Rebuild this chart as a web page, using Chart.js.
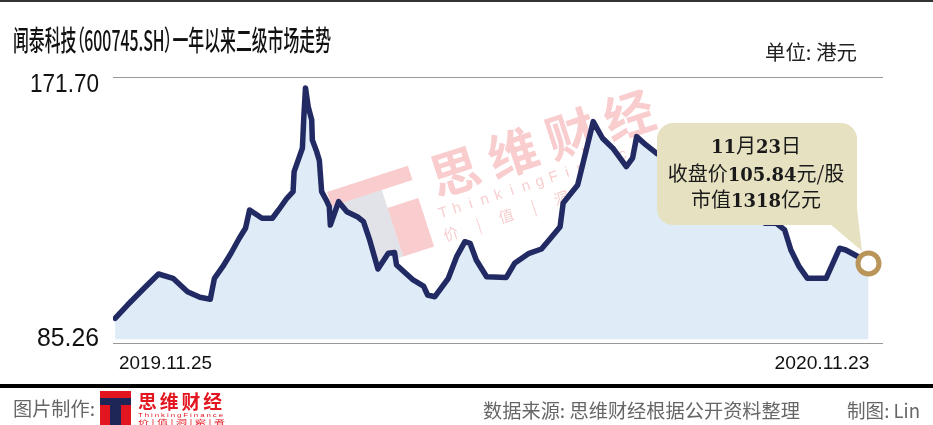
<!DOCTYPE html>
<html>
<head>
<meta charset="utf-8">
<script src="https://cdn.jsdelivr.net/npm/chart.js@4.4.0/dist/chart.umd.min.js"></script>
<style>
  html, body { margin: 0; padding: 0; background: #fff; }
  #wrap { position: relative; width: 933px; height: 425px; overflow: hidden; background: #fff; }
  #chart { position: absolute; left: 0; top: 0; }
  .txt { position: absolute; white-space: nowrap; display: inline-block; line-height: 1;
         font-family: "Noto Sans CJK SC", "Noto Sans", sans-serif; font-feature-settings: "palt"; }
  .rule { position: absolute; left: 0; width: 933px; }
  #logo { position: absolute; left: 100px; top: 391px; width: 31px; height: 34px; background: #e3151e; overflow: hidden; }
  #logo .bar { position: absolute; left: 0; top: 7px; width: 31px; height: 7px; background: #1d2657; }
  #logo .stem { position: absolute; left: 10px; top: 14px; width: 11px; height: 20px; background: #1d2657; }
</style>
</head>
<body>
<div id="wrap">
  <canvas id="chart" width="933" height="425"></canvas>
  <div class="rule" style="top:0;height:2px;background:#333;"></div>
  <div class="txt" id="title" data-w="318" style="left:13px;top:25px;font-size:28px;font-weight:500;color:#111;">闻泰科技（600745.SH）一年以来二级市场走势</div>
  <div class="txt" data-w="92" style="left:765px;top:42px;font-size:20px;color:#222;">单位: 港元</div>

  <div class="rule" style="top:384px;height:4px;background:#000;"></div>
  <div class="txt" data-w="82" style="left:13px;top:398px;font-size:19px;color:#666;">图片制作:</div>
  <div id="logo"><div class="bar"></div><div class="stem"></div></div>
  <div class="txt" data-w="87" style="left:138px;top:391px;font-size:19px;font-weight:bold;color:#e3151e;letter-spacing:3px;">思维财经</div>
  <div class="txt" data-w="87" style="left:138px;top:412px;font-size:6px;color:#e3151e;letter-spacing:1.5px;font-family:'Liberation Sans',sans-serif;">ThinkingFinance</div>
  <div class="txt" data-w="87" style="left:138px;top:418.5px;font-size:6px;color:#e3151e;">价 | 值 | 洞 | 察 | 者</div>
  <div class="txt" data-w="317" style="left:483px;top:400px;font-size:19px;color:#666;">数据来源: 思维财经根据公开资料整理</div>
  <div class="txt" data-w="73" style="left:847px;top:400px;font-size:19px;color:#666;">制图: Lin</div>
</div>

<script>
// ── Data (days counted from 2019.11.25) ──
const DAY_OFFSET = [0, 6, 14, 21, 28, 35, 41, 46, 48, 52, 56, 60, 63, 65, 71, 76, 79, 83, 86, 86.5,
  88.5, 90.5, 91.2, 92, 93.3, 95, 95.3, 97.4, 98.7, 99.8, 102, 103.5, 104, 108, 112, 117, 120, 123, 127, 132,
  135, 136, 144, 149, 151, 154.5, 161, 165, 169, 171.5, 174.5, 179.5, 189, 193, 200, 206, 211, 215, 216.5, 223.5,
  231, 235.5, 240.5, 247, 250, 252, 256.5, 261.5, 273, 287, 302, 314, 319.5, 323.5, 326.5, 330.5, 334.5, 343.5, 350, 353,
  359.5, 364];
const CLOSE_PRICE = [85.26, 90.25, 96.52, 101.89, 100.28, 95.24, 93.14, 92.39, 100.28, 104.63, 109.66, 115.29, 119.04, 125.91, 122.80, 122.80, 125.91, 130.30, 132.78, 140.29,
  144.68, 149.07, 160.94, 171.70, 164.69, 159.70, 152.19, 147.80, 144.42, 132.78, 129.67, 127.15, 120.28, 129.03, 125.28, 123.40, 121.52, 114.65, 103.77, 109.66,
  109.96, 105.27, 99.64, 97.38, 94.01, 93.37, 100.28, 108.38, 114.01, 113.41, 107.14, 100.88, 100.58, 105.90, 109.66, 111.27, 115.89, 119.64, 128.54, 135.30,
  159.06, 152.83, 149.07, 142.17, 145.32, 153.43, 150.31, 147.20, 142.81, 135.30, 127.79, 120.92, 120.92, 118.41, 110.90, 104.63, 100.28, 100.28, 111.54, 110.90,
  108.16, 105.84];
const Y_TICK_LABELS = ["85.26", "171.70"];
const X_TICK_LABELS = ["2019.11.25", "2020.11.23"];
const NOTE_LINES = [
  [["11", "b"], ["月", "r"], ["23", "b"], ["日", "r"]],
  [["收盘价", "r"], ["105.84", "b"], ["元/股", "r"]],
  [["市值", "r"], ["1318", "b"], ["亿元", "r"]],
];

// axis range (gridlines sit at these)
const Y_AXIS_MIN = 76.0, Y_AXIS_MAX = 175.8;
const X_AXIS_MIN = -1, X_AXIS_MAX = 371;

const NAVY = "#222a64";
const GOLD = "#b9955a";

// ── squeeze helpers (the original uses condensed faces) ──
document.querySelectorAll(".txt[data-w]").forEach(el => {
  const nat = el.getBoundingClientRect().width;
  el.style.transformOrigin = "left top";
  el.style.transform = `scaleX(${parseFloat(el.dataset.w) / nat})`;
});

function fitFill(ctx, text, x, y, w, align) {
  const nat = ctx.measureText(text).width;
  ctx.save();
  ctx.translate(x, y);
  ctx.scale(w / nat, 1);
  ctx.textAlign = align;
  ctx.fillText(text, 0, 0);
  ctx.restore();
}

function roundRect(ctx, x, y, w, h, r) {
  ctx.beginPath();
  ctx.moveTo(x + r, y);
  ctx.arcTo(x + w, y, x + w, y + h, r);
  ctx.arcTo(x + w, y + h, x, y + h, r);
  ctx.arcTo(x, y + h, x, y, r);
  ctx.arcTo(x, y, x + w, y, r);
  ctx.closePath();
}

// ── watermark, drawn under the area fill ──
const watermark = {
  id: "watermark",
  beforeDatasetsDraw(chart) {
    const ctx = chart.ctx;
    ctx.save();
    ctx.translate(327, 192);
    ctx.rotate(-18 * Math.PI / 180);
    const S = 85;
    ctx.fillStyle = "rgba(228,22,31,0.22)";
    ctx.fillRect(0, 0, S, 15);
    ctx.fillStyle = "rgba(29,38,87,0.13)";
    ctx.fillRect(0, 15, S * 0.62, S - 15);
    ctx.fillStyle = "rgba(228,22,31,0.22)";
    ctx.fillRect(S * 0.62, 34, S * 0.38, S - 34);
    ctx.font = "bold 50px 'Noto Sans CJK SC'";
    ctx.textBaseline = "middle";
    ctx.textAlign = "center";
    ["思", "维", "财", "经"].forEach((c, i) => ctx.fillText(c, 128 + i * 61, 20));
    ctx.font = "15px 'Liberation Sans'";
    "ThinkingFinance".split("").forEach((c, i) => ctx.fillText(c, 104 + i * 14.5, 56));
    ctx.font = "15px 'Noto Sans CJK SC'";
    "价|值|洞|察|者".split("").forEach((c, i) => ctx.fillText(c, 105 + i * 29, 78));
    ctx.restore();
  }
};

// ── callout box, axis labels ──
const overlay = {
  id: "overlay",
  afterDatasetsDraw(chart) {
    const ctx = chart.ctx;
    ctx.save();
    ctx.fillStyle = "#e6e1c1";
    roundRect(ctx, 657, 123, 200, 102, 16);
    ctx.fill();
    ctx.beginPath();
    ctx.moveTo(830, 224);
    ctx.lineTo(856, 200);
    ctx.lineTo(862, 251);
    ctx.closePath();
    ctx.fill();

    const fonts = { b: "bold 18px 'DejaVu Serif'", r: "20px 'Noto Sans CJK SC'" };
    const baselines = [153, 181, 207];
    ctx.fillStyle = "#1a1a1a";
    ctx.textBaseline = "alphabetic";
    ctx.textAlign = "left";
    NOTE_LINES.forEach((segs, li) => {
      let total = 0;
      segs.forEach(([t, f]) => { ctx.font = fonts[f]; total += ctx.measureText(t).width; });
      let x = 756 - total / 2;
      segs.forEach(([t, f]) => {
        ctx.font = fonts[f];
        ctx.fillText(t, x, baselines[li]);
        x += ctx.measureText(t).width;
      });
    });
    ctx.restore();
  },
  afterDraw(chart) {
    const ctx = chart.ctx;
    const ys = chart.scales.y;
    const xs = chart.scales.x;
    ctx.save();
    ctx.fillStyle = "#111";
    ctx.textBaseline = "alphabetic";
    ctx.font = "26px 'Liberation Sans'";
    fitFill(ctx, Y_TICK_LABELS[1], 99, ys.getPixelForValue(Y_AXIS_MAX) + 15, 69, "right");
    fitFill(ctx, Y_TICK_LABELS[0], 99, ys.getPixelForValue(Y_AXIS_MIN) + 3, 62, "right");
    ctx.font = "19px 'Liberation Sans'";
    fitFill(ctx, X_TICK_LABELS[0], xs.getPixelForValue(DAY_OFFSET[0]) + 4, 369, 93, "left");
    fitFill(ctx, X_TICK_LABELS[1], xs.getPixelForValue(DAY_OFFSET[DAY_OFFSET.length - 1]) + 1, 369, 95, "right");
    ctx.restore();
  }
};

const lastIdx = CLOSE_PRICE.length - 1;

new Chart(document.getElementById("chart"), {
  type: "line",
  data: {
    datasets: [{
      data: DAY_OFFSET.map((d, i) => ({ x: d, y: CLOSE_PRICE[i] })),
      borderColor: NAVY,
      borderWidth: 5.5,
      borderJoinStyle: "round",
      borderCapStyle: "round",
      tension: 0,
      fill: { value: 77.4 },
      backgroundColor: "#dfebf6",
      pointRadius: ctx => ctx.dataIndex === lastIdx ? 10.5 : 0,
      pointBorderWidth: 5,
      pointBorderColor: GOLD,
      pointBackgroundColor: "#fff",
      pointHoverRadius: 0,
    }],
  },
  options: {
    responsive: false,
    devicePixelRatio: 1,
    animation: false,
    events: [],
    layout: { padding: { left: 113, right: 50, top: 77, bottom: 82 } },
    plugins: {
      legend: { display: false },
      tooltip: { enabled: false },
    },
    scales: {
      x: { type: "linear", min: X_AXIS_MIN, max: X_AXIS_MAX, display: false },
      y: {
        min: Y_AXIS_MIN, max: Y_AXIS_MAX,
        afterBuildTicks: scale => { scale.ticks = [{ value: Y_AXIS_MIN }, { value: Y_AXIS_MAX }]; },
        ticks: { display: false },
        border: { display: false },
        grid: { drawTicks: false, color: "#999", lineWidth: 1, borderDash: [1, 2] },
      },
    },
  },
  plugins: [watermark, overlay],
});
</script>
</body>
</html>
